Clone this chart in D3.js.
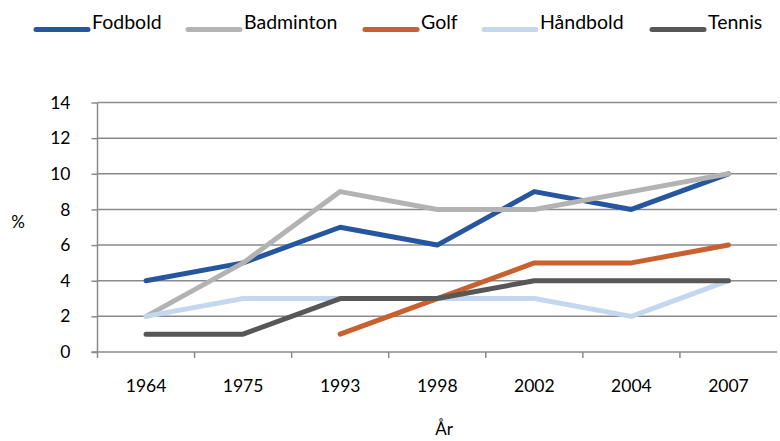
<!DOCTYPE html>
<html><head><meta charset="utf-8">
<script src="https://cdn.jsdelivr.net/npm/d3@7"></script>
<style>body{margin:0;background:#fff}svg{display:block}text{font-family:Lato,"Open Sans",sans-serif;fill:#000}</style>
</head><body><svg id="c" width="780" height="441"></svg>
<script>
const years = ["1964","1975","1993","1998","2002","2004","2007"];
const fodbold   = [4,5,7,6,9,8,10];
const badminton = [2,5,9,8,8,9,10];
const golf      = [null,null,1,3,5,5,6];
const haandbold = [2,3,3,3,3,2,4];
const tennis    = [1,1,3,3,4,4,4];
const yTicks = [0,2,4,6,8,10,12,14];
const seriesNames = ["Fodbold","Badminton","Golf","Håndbold","Tennis"];
const seriesValues = [fodbold,badminton,golf,haandbold,tennis];
const colors = ["#2656a0","#b3b3b3","#c8602f","#c4d7ee","#575757"];

const svg = d3.select("#c");
const L=97.5, R=777, T=102.5, B=352;
const x = d3.scaleBand().domain(years).range([L,R]);
const y = d3.scaleLinear().domain([0,14]).range([B,T]);
const grid="#8a8a8a";

svg.append("g").selectAll("line").data(yTicks.filter(d=>d>0)).join("line")
  .attr("x1",L).attr("x2",R).attr("y1",d=>y(d)).attr("y2",d=>y(d))
  .attr("stroke",grid).attr("stroke-width",1.5);

const ya = svg.append("g").attr("transform",`translate(${L},0)`)
  .call(d3.axisLeft(y).tickValues(yTicks).tickSize(6).tickPadding(21));
ya.selectAll("path,line").attr("stroke",grid).attr("stroke-width",1.5);
ya.select(".domain").attr("d",`M0,${B}V${T}`);
ya.selectAll("text").style("font-size","17.5px").style("font-family","Lato,sans-serif");

const xa = svg.append("g").attr("transform",`translate(0,${B})`)
  .call(d3.axisBottom(x).tickSize(0).tickPadding(28));
xa.select(".domain").attr("stroke",grid).attr("stroke-width",1.5).attr("d",`M${L-6},0H${R}`);
xa.selectAll("text").style("font-size","17.5px").style("font-family","Lato,sans-serif");
xa.selectAll(".bt").data(years).join("line").attr("class","bt")
  .attr("x1",d=>x(d)).attr("x2",d=>x(d)).attr("y1",0).attr("y2",6)
  .attr("stroke",grid).attr("stroke-width",1.5);

const line = d3.line().defined(d=>d.v!=null).x(d=>x(d.k)+x.bandwidth()/2).y(d=>y(d.v));
seriesValues.forEach((vals,i)=>{
  svg.append("path").datum(years.map((k,j)=>({k,v:vals[j]})))
    .attr("d",line).attr("fill","none").attr("stroke",colors[i])
    .attr("stroke-width",5).attr("stroke-linecap","round").attr("stroke-linejoin","round");
});

svg.append("text").attr("x",18).attr("y",228).attr("text-anchor","middle").style("font-size","17px").text("%");
svg.append("text").attr("x",444).attr("y",435).attr("text-anchor","middle").style("font-size","17px").text("År");

const legX=[36,188,365,484,652];
const lg = svg.append("g");
seriesNames.forEach((n,i)=>{
  lg.append("line").attr("x1",legX[i]).attr("x2",legX[i]+52).attr("y1",29.5).attr("y2",29.5)
    .attr("stroke",colors[i]).attr("stroke-width",5).attr("stroke-linecap","round");
  lg.append("text").attr("x",legX[i]+56).attr("y",29).style("font-size","19.5px").text(n);
});
</script></body></html>
